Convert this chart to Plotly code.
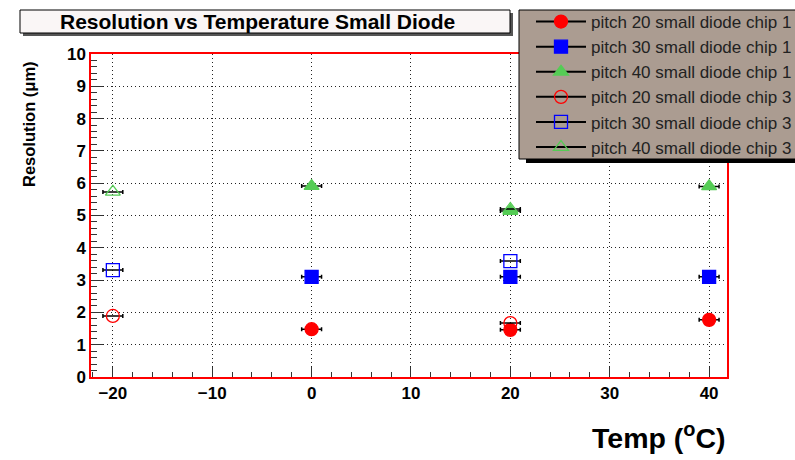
import plotly.graph_objects as go

# ---------------- data ----------------
series_names = [
    "pitch 20 small diode chip 1",
    "pitch 30 small diode chip 1",
    "pitch 40 small diode chip 1",
    "pitch 20 small diode chip 3",
    "pitch 30 small diode chip 3",
    "pitch 40 small diode chip 3",
]
temp_chip1 = [0, 20, 40]
temp_chip3 = [-20, 20]
p20_chip1 = [1.48, 1.46, 1.77]
p30_chip1 = [3.10, 3.10, 3.10]
p40_chip1 = [5.91, 5.14, 5.90]
p20_chip3 = [1.89, 1.67]
p30_chip3 = [3.31, 3.59]
p40_chip3 = [5.73, 5.20]
temp_err = 1.0

x_ticks = [-20, -10, 0, 10, 20, 30, 40]
y_ticks = list(range(0, 11))

# ---------------- layout geometry (pixels) ----------------
W, H = 795, 460
L, R, T, B = 91, 727, 54, 377


def px(x):
    return (x - L) / (R - L)


def py(y):
    return (B - y) / (B - T)


RED = "#ff0000"
BLUE = "#0000ff"
GREEN = "#55cc55"

styles = [
    dict(symbol="circle", color=RED),
    dict(symbol="square", color=BLUE),
    dict(symbol="triangle-up", color=GREEN),
    dict(symbol="circle-open", color=RED),
    dict(symbol="square-open", color=BLUE),
    dict(symbol="triangle-up-open", color=GREEN),
]
xs = [temp_chip1] * 3 + [temp_chip3] * 3
ys = [p20_chip1, p30_chip1, p40_chip1, p20_chip3, p30_chip3, p40_chip3]


def with_gaps(vals):
    out = []
    for i, v in enumerate(vals):
        if i:
            out.append(None)
        out.append(v)
    return out


fig = go.Figure()
for i, (name, st, x, y) in enumerate(zip(series_names, styles, xs, ys)):
    errs = with_gaps([temp_err] * len(x))
    fig.add_trace(go.Scatter(
        x=with_gaps(x), y=with_gaps(y), name=name,
        mode="lines+markers", connectgaps=False,
        line=dict(color="black", width=2),
        marker=dict(symbol=st["symbol"], color=st["color"], size=13,
                    line=dict(color=st["color"], width=1.3)),
        error_x=dict(type="data", array=errs, color="black",
                     thickness=1.5, width=2),
        legendgroup=f"g{i}",
    ))

axis_common = dict(
    showline=True, linecolor=RED, linewidth=1.5, mirror=True,
    showgrid=True, gridcolor="#222", griddash="1px,3px", gridwidth=1,
    zeroline=False, ticks="inside", tickcolor="#333", tickwidth=1,
    tickfont=dict(family="Liberation Sans", size=17, color="black", weight="bold"),
)

fig.update_xaxes(range=[-22.2, 41.8], tickvals=x_ticks, ticklen=10,
                 minor=dict(dtick=2, ticks="inside", ticklen=5, tickcolor="#333",
                            showgrid=False),
                 **axis_common)
fig.update_yaxes(range=[0, 10], tickvals=y_ticks, ticklen=12,
                 minor=dict(dtick=0.2, ticks="inside", ticklen=6, tickcolor="#333",
                            showgrid=False),
                 **axis_common)

shapes = []
# title box shadow + box
shapes.append(dict(type="rect", xref="paper", yref="paper",
                   x0=px(23), x1=px(513), y0=py(36), y1=py(13),
                   fillcolor="#555", line=dict(width=0), layer="above"))
shapes.append(dict(type="rect", xref="paper", yref="paper",
                   x0=px(20), x1=px(510), y0=py(33), y1=py(10),
                   fillcolor="#faf6f6", line=dict(color="black", width=1), layer="above"))
# legend box shadow + box
shapes.append(dict(type="rect", xref="paper", yref="paper",
                   x0=px(526), x1=px(800), y0=py(163), y1=py(14),
                   fillcolor="black", line=dict(width=0), layer="above"))
shapes.append(dict(type="rect", xref="paper", yref="paper",
                   x0=px(519), x1=px(800), y0=py(159), y1=py(10),
                   fillcolor="#ab9c91", line=dict(color="black", width=1), layer="above"))

annotations = [
    dict(text="Resolution vs Temperature Small Diode", xref="paper", yref="paper",
         x=px(257), y=py(21.5), xanchor="center", yanchor="middle", showarrow=False,
         font=dict(family="Liberation Sans", size=21, color="black", weight="bold")),
    dict(text="Resolution (\u03bcm)", xref="paper", yref="paper",
         x=px(29), y=py(59), xanchor="center", yanchor="top", textangle=-90,
         showarrow=False,
         font=dict(family="Liberation Sans", size=16.5, color="black", weight="bold")),
    dict(text="Temp (<sup>o</sup>C)", xref="paper", yref="paper",
         x=px(728), y=py(436), xanchor="right", yanchor="middle", showarrow=False,
         font=dict(family="Liberation Sans", size=28.5, color="black", weight="bold")),
]

fig.update_layout(
    width=W, height=H,
    margin=dict(l=L, r=W - R, t=T, b=H - B, pad=0, autoexpand=False),
    paper_bgcolor="white", plot_bgcolor="white",
    shapes=shapes, annotations=annotations,
    showlegend=True,
    legend=dict(x=px(531), y=py(4), xanchor="left", yanchor="top",
                bgcolor="rgba(0,0,0,0)", borderwidth=0,
                font=dict(family="Liberation Sans", size=17, color="#222"),
                tracegroupgap=0, itemwidth=50),
)

fig.write_html("out.html")
